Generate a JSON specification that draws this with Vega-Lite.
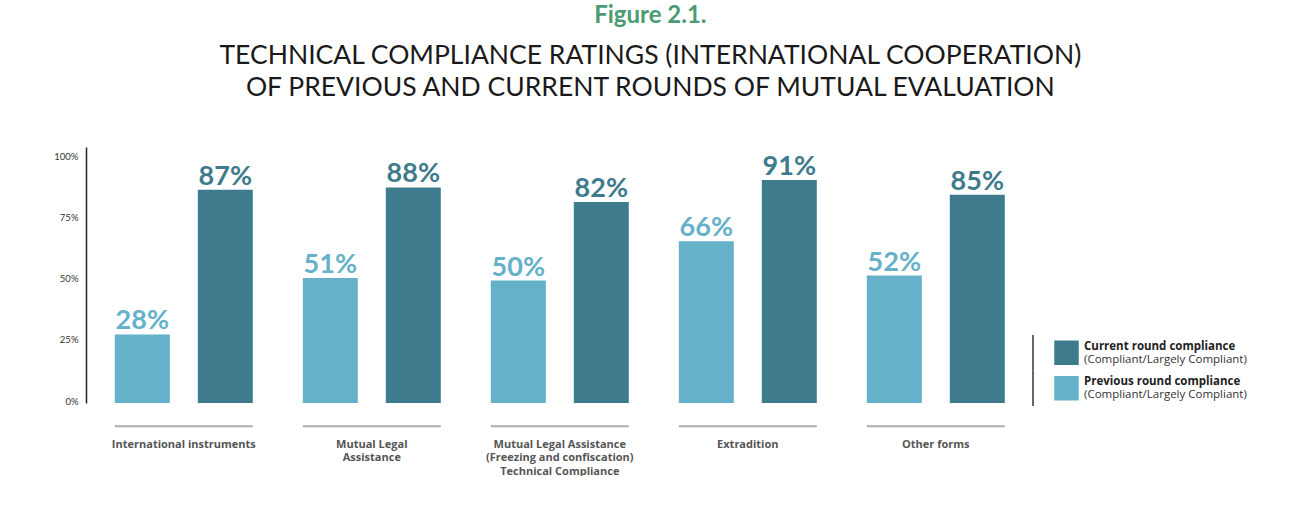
{
  "$schema": "https://vega.github.io/schema/vega-lite/v6.json",
  "background": "white",
  "padding": {"left": 53, "top": 3, "right": 0, "bottom": 0},
  "title": {
    "text": "Figure 2.1.",
    "subtitle": ["TECHNICAL COMPLIANCE RATINGS (INTERNATIONAL COOPERATION)", "OF PREVIOUS AND CURRENT ROUNDS OF MUTUAL EVALUATION"],
    "anchor": "middle",
    "frame": "bounds",
    "font": "Lato",
    "fontSize": 24,
    "fontWeight": "bold",
    "color": "#4a9b74",
    "subtitleFont": "Lato",
    "subtitleFontSize": 26.5,
    "subtitleFontWeight": "normal",
    "subtitleColor": "#1a1a1a",
    "subtitleLineHeight": 32,
    "subtitlePadding": 15,
    "offset": 46
  },
  "datasets": {
    "bars": [
      {"group": "International instruments", "series": "Previous", "value": 0.28},
      {"group": "International instruments", "series": "Current", "value": 0.87},
      {"group": "Mutual Legal Assistance", "series": "Previous", "value": 0.51},
      {"group": "Mutual Legal Assistance", "series": "Current", "value": 0.88},
      {"group": "Mutual Legal Assistance (Freezing and confiscation) Technical Compliance", "series": "Previous", "value": 0.50},
      {"group": "Mutual Legal Assistance (Freezing and confiscation) Technical Compliance", "series": "Current", "value": 0.82},
      {"group": "Extradition", "series": "Previous", "value": 0.66},
      {"group": "Extradition", "series": "Current", "value": 0.91},
      {"group": "Other forms", "series": "Previous", "value": 0.52},
      {"group": "Other forms", "series": "Current", "value": 0.85}
    ],
    "legend": [
      {"series": "Current", "l1": "Current round compliance", "l2": "(Compliant/Largely Compliant)"},
      {"series": "Previous", "l1": "Previous round compliance", "l2": "(Compliant/Largely Compliant)"}
    ]
  },
  "spacing": 16,
  "hconcat": [
    {
      "width": 930,
      "height": 256,
      "data": {"name": "bars"},
      "encoding": {
        "x": {
          "field": "group",
          "type": "nominal",
          "sort": ["International instruments", "Mutual Legal Assistance", "Mutual Legal Assistance (Freezing and confiscation) Technical Compliance", "Extradition", "Other forms"],
          "scale": {"paddingInner": 0.266, "paddingOuter": 0.1064, "align": 0.72},
          "axis": {
            "title": null,
            "domain": false,
            "ticks": false,
            "labelAngle": 0,
            "labelPadding": 35,
            "labelFont": "Open Sans",
            "labelFontSize": 11,
            "labelFontWeight": "bold",
            "labelColor": "#555555",
            "labelLineHeight": 13.5,
            "labelLimit": 300,
            "labelExpr": "datum.value == 'Mutual Legal Assistance' ? ['Mutual Legal', 'Assistance'] : datum.value == 'Mutual Legal Assistance (Freezing and confiscation) Technical Compliance' ? ['Mutual Legal Assistance', '(Freezing and confiscation)', 'Technical Compliance'] : datum.value"
          }
        }
      },
      "layer": [
        {
          "mark": {"type": "bar"},
          "encoding": {
            "xOffset": {"field": "series", "type": "nominal", "sort": ["Previous", "Current"], "scale": {"paddingInner": 0.3373, "paddingOuter": 0}},
            "y": {
              "field": "value",
              "type": "quantitative",
              "scale": {"domain": [0, 1.045], "nice": false, "zero": true},
              "axis": {
                "title": null,
                "values": [0, 0.25, 0.5, 0.75, 1],
                "format": ".0%",
                "ticks": false,
                "grid": false,
                "domainColor": "#222222",
                "domainWidth": 1.5,
                "labelFont": "Lato",
                "labelFontSize": 9.5,
                "labelColor": "#333333",
                "labelPadding": 8,
                "labelOffset": -2
              }
            },
            "color": {"field": "series", "type": "nominal", "scale": {"domain": ["Current", "Previous"], "range": ["#3e7b8c", "#65b1c9"]}, "legend": null}
          }
        },
        {
          "mark": {"type": "text", "baseline": "alphabetic", "dy": -5, "font": "Lato", "fontSize": 27, "fontWeight": "bold"},
          "encoding": {
            "xOffset": {"field": "series", "type": "nominal", "sort": ["Previous", "Current"]},
            "y": {"field": "value", "type": "quantitative"},
            "text": {"field": "value", "type": "quantitative", "format": ".0%"},
            "color": {"field": "series", "type": "nominal", "legend": null}
          }
        },
        {
          "transform": [{"filter": "datum.series == 'Current'"}],
          "mark": {"type": "tick", "orient": "horizontal", "size": 138, "thickness": 2, "color": "#8c8c8c"},
          "encoding": {
            "y": {"datum": -0.095, "type": "quantitative"}
          }
        }
      ]
    },
    {
      "width": 51,
      "height": 256,
      "data": {"name": "legend"},
      "encoding": {
        "y": {"field": "series", "type": "nominal", "scale": {"domain": ["Current", "Previous"], "range": [188, 259], "paddingInner": 0, "paddingOuter": 0}, "axis": null}
      },
      "layer": [
        {
          "mark": {"type": "rect", "width": 1.5, "color": "#333333"},
          "encoding": {
            "x": {"datum": "line", "type": "nominal", "scale": {"type": "point", "domain": ["line", "swatch", "text"], "padding": 0}, "axis": null}
          }
        },
        {
          "mark": {"type": "square", "size": 600, "filled": true, "opacity": 1, "xOffset": 8},
          "encoding": {
            "x": {"datum": "swatch", "type": "nominal"},
            "color": {"field": "series", "type": "nominal", "scale": {"domain": ["Current", "Previous"], "range": ["#3e7b8c", "#65b1c9"]}, "legend": null}
          }
        },
        {
          "mark": {"type": "text", "align": "left", "baseline": "alphabetic", "dy": -3, "font": "Open Sans", "fontSize": 11.5, "fontWeight": "bold", "color": "#222222"},
          "encoding": {
            "x": {"datum": "text", "type": "nominal"},
            "text": {"field": "l1", "type": "nominal"}
          }
        },
        {
          "mark": {"type": "text", "align": "left", "baseline": "alphabetic", "dy": 10, "font": "Open Sans", "fontSize": 11.5, "fontWeight": "normal", "color": "#333333"},
          "encoding": {
            "x": {"datum": "text", "type": "nominal"},
            "text": {"field": "l2", "type": "nominal"}
          }
        }
      ]
    }
  ],
  "config": {"view": {"stroke": null}, "font": "Lato"}
}
